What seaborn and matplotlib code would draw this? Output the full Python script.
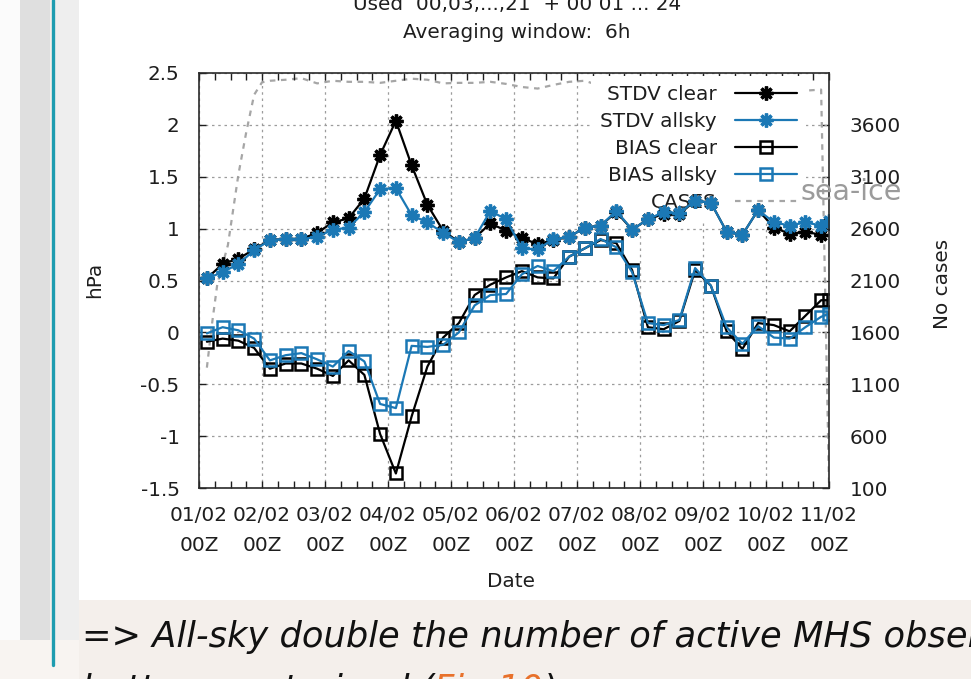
import numpy as np
import matplotlib
matplotlib.use("Agg")
import matplotlib.pyplot as plt
import matplotlib.ticker as mticker
from matplotlib.patches import Rectangle
from matplotlib.lines import Line2D
import seaborn as sns

# ---- data -------------------------------------------------------------
# 6-hourly averages centred at 03, 09, 15, 21 UTC, plus the closing 00 UTC window
hours = list(range(3, 240, 6)) + [240]

stdv_clear = [0.52, 0.66, 0.71, 0.80, 0.89, 0.90, 0.90, 0.96, 1.06, 1.10,
              1.29, 1.71, 2.04, 1.61, 1.23, 0.98, 0.87, 0.91, 1.05, 0.98,
              0.91, 0.85, 0.89, 0.92, 1.01, 1.03, 1.16, 0.99, 1.09, 1.14,
              1.14, 1.27, 1.25, 0.97, 0.94, 1.18, 1.01, 0.95, 0.97, 0.94, 1.05]
stdv_allsky = [0.52, 0.58, 0.66, 0.79, 0.89, 0.90, 0.90, 0.92, 0.99, 1.01,
               1.16, 1.38, 1.39, 1.13, 1.06, 0.96, 0.87, 0.91, 1.17, 1.09,
               0.81, 0.80, 0.90, 0.92, 1.01, 1.03, 1.17, 0.99, 1.09, 1.16,
               1.15, 1.27, 1.25, 0.97, 0.94, 1.18, 1.06, 1.03, 1.06, 1.03, 1.07]
bias_clear = [-0.09, -0.06, -0.08, -0.15, -0.35, -0.30, -0.30, -0.35, -0.42, -0.27,
              -0.41, -0.98, -1.36, -0.81, -0.33, -0.05, 0.09, 0.36, 0.46, 0.53,
              0.59, 0.53, 0.52, 0.73, 0.81, 0.89, 0.86, 0.60, 0.05, 0.03,
              0.11, 0.60, 0.45, 0.01, -0.16, 0.09, 0.07, 0.01, 0.16, 0.31, 0.31]
bias_allsky = [-0.01, 0.05, 0.02, -0.06, -0.27, -0.22, -0.20, -0.26, -0.33, -0.18,
               -0.28, -0.69, -0.73, -0.13, -0.14, -0.12, 0.00, 0.26, 0.36, 0.37,
               0.56, 0.64, 0.59, 0.73, 0.81, 0.90, 0.82, 0.58, 0.09, 0.07,
               0.12, 0.62, 0.45, 0.05, -0.11, 0.06, -0.05, -0.06, 0.05, 0.15, 0.18]

# number of cases (right axis)
cases_hours = [3, 5, 7, 11, 15, 18, 21, 24, 27, 33, 39, 45, 51, 57, 63, 69, 75,
               81, 87, 93, 99, 105, 111, 117, 123, 129, 135, 141, 147, 153, 159,
               165, 171, 177, 183, 189, 195, 201, 207, 213, 219, 225, 231, 237, 240]
cases = [1260, 1690, 2070, 2440, 3120, 3530, 3890, 4010, 4025, 4035, 4050, 4000,
         4025, 4015, 4015, 4005, 4025, 4045, 4035, 4000, 4005, 4005, 4015, 3995,
         3965, 3950, 3985, 4015, 4025, 3975, 3955, 3940, 3930, 3910, 3890, 3880,
         3870, 3860, 3860, 3880, 3900, 3910, 3930, 3940, 150]

day_labels = ["01/02", "02/02", "03/02", "04/02", "05/02", "06/02",
              "07/02", "08/02", "09/02", "10/02", "11/02"]
tick_labels = [f"{d}\n00Z" for d in day_labels]

hpa_ticks = [-1.5, -1.0, -0.5, 0.0, 0.5, 1.0, 1.5, 2.0, 2.5]
hpa_labels = ["-1.5", "-1", "-0.5", "0", "0.5", "1", "1.5", "2", "2.5"]
cases_ticks = [100, 600, 1100, 1600, 2100, 2600, 3100, 3600]

series_names = ["STDV clear", "STDV allsky", "BIAS clear", "BIAS allsky", "CASES"]

# ---- style --------------------------------------------------------------
sns.set_theme(style="white")
plt.rcParams["font.family"] = ["DejaVu Sans"]
plt.rcParams["axes.unicode_minus"] = False
plt.rcParams["text.color"] = "#1e1e1e"
plt.rcParams["axes.labelcolor"] = "#1e1e1e"
plt.rcParams["xtick.color"] = "#1e1e1e"
plt.rcParams["ytick.color"] = "#1e1e1e"

FS = 14.4
BLUE = "#1b78b5"
GREY = "#a6a6a6"

W, H = 971, 679
fig = plt.figure(figsize=(W / 100, H / 100), dpi=100)
fig.patch.set_facecolor("#f4efeb")


def px_rect(x0, y0, x1, y1, color):
    fig.patches.append(Rectangle((x0 / W, 1 - y1 / H), (x1 - x0) / W, (y1 - y0) / H,
                                 transform=fig.transFigure, facecolor=color,
                                 edgecolor="none", zorder=-10))


# slide background: side panel, accent bar and the white chart card
px_rect(0, 0, 20, 640, "#fbfbfb")
px_rect(20, 0, 50, 640, "#dfdfdf")
px_rect(55, 0, 79, 640, "#eeeeee")
px_rect(0, 640, 79, 679, "#f8f4f1")
px_rect(79, 0, 971, 600, "#ffffff")
fig.lines.append(Line2D([53 / W, 53 / W], [1, 1 - 665 / H], transform=fig.transFigure,
                        color="#1e9cb0", linewidth=2.4, zorder=-5))

# ---- axes ---------------------------------------------------------------
ax = fig.add_axes([199 / W, 1 - 488 / H, 630 / W, 415 / H])
ax2 = ax.twinx()
ax.set_zorder(ax2.get_zorder() + 1)
ax.patch.set_visible(False)

t = np.array(hours) / 24.0
star = (8, 2, 0)
common = dict(errorbar=None, legend=False, linewidth=1.6)

sns.lineplot(x=t, y=stdv_clear, ax=ax, color="black", marker=star, markersize=10,
             markeredgewidth=2.4, markeredgecolor="black", label=series_names[0], **common)
sns.lineplot(x=t, y=stdv_allsky, ax=ax, color=BLUE, marker=star, markersize=10,
             markeredgewidth=2.4, markeredgecolor=BLUE, label=series_names[1], **common)
sns.lineplot(x=t, y=bias_clear, ax=ax, color="black", marker="s", markersize=8,
             markeredgewidth=1.8, markeredgecolor="black", markerfacecolor="none",
             label=series_names[2], **common)
sns.lineplot(x=t, y=bias_allsky, ax=ax, color=BLUE, marker="s", markersize=8,
             markeredgewidth=1.8, markeredgecolor=BLUE, markerfacecolor="none",
             label=series_names[3], **common)
sns.lineplot(x=np.array(cases_hours) / 24.0, y=cases, ax=ax2, color=GREY,
             linestyle=(0, (2.5, 2.5)), errorbar=None, legend=False, linewidth=1.6,
             label=series_names[4])

ax.set_xlim(0, 10)
ax.set_ylim(-1.5, 2.5)
ax2.set_ylim(100, 4100)

ax.set_xticks(range(11))
ax.set_xticklabels(tick_labels, linespacing=1.75)
ax.xaxis.set_minor_locator(mticker.MultipleLocator(0.25))
ax.set_yticks(hpa_ticks)
ax.set_yticklabels(hpa_labels)
ax2.set_yticks(cases_ticks)
ax2.set_yticklabels([str(v) for v in cases_ticks])

ax.grid(True, which="major", color="#9c9c9c", linestyle=(0, (2, 3)), linewidth=0.9)
ax.set_axisbelow(True)

for sp in ax.spines.values():
    sp.set_color("#2a2a2a")
    sp.set_linewidth(1.2)
for sp in ax2.spines.values():
    sp.set_visible(False)

ax.tick_params(axis="x", which="both", direction="in", top=True, bottom=True,
               length=5, width=1, labelsize=FS, pad=13)
ax.tick_params(axis="y", which="both", direction="in", left=True, right=False,
               length=5, width=1, labelsize=FS, pad=14)
ax2.tick_params(axis="y", direction="in", right=True, length=5, width=1,
                labelsize=FS, pad=15)

ax.set_xlabel("Date", fontsize=FS)
ax.xaxis.set_label_coords((511 - 199) / 630, (488 - 572) / 415)
ax.set_ylabel("hPa", fontsize=FS)
ax.yaxis.set_label_coords((104 - 199) / 630, (488 - 280) / 415)
ax2.set_ylabel("No cases", fontsize=FS)
ax2.yaxis.set_label_coords((933 - 199) / 630, (488 - 284) / 415)

handles = list(ax.get_lines()) + list(ax2.get_lines())
leg = ax.legend(handles=handles, labels=series_names, loc="upper right",
                bbox_to_anchor=((806 - 199) / 630, (488 - 76) / 415),
                bbox_transform=ax.transAxes, borderaxespad=0, markerfirst=False,
                frameon=True, facecolor="white", edgecolor="none", framealpha=1,
                fancybox=False, fontsize=FS, handlelength=3.1, handletextpad=0.9,
                labelspacing=0.40, borderpad=0.45)
leg.set_zorder(1.5)

# ---- titles and slide text ---------------------------------------------
fig.text(517 / W, 1 - 10 / H, "Used  00,03,...,21  + 00 01 ... 24",
         ha="center", va="baseline", fontsize=FS)
fig.text(517 / W, 1 - 38 / H, "Averaging window:  6h",
         ha="center", va="baseline", fontsize=FS)
fig.text(800 / W, 1 - 200 / H, "sea-ice", ha="left", va="baseline",
         fontsize=20.5, color="#9b9b9b", zorder=10)

BODY = 25.4
fig.text(82 / W, 1 - 647 / H, "=> All-sky double the number of active MHS observations",
         ha="left", va="baseline", fontsize=BODY, style="italic", color="#111111")
t1 = fig.text(82 / W, 1 - 700 / H, "better constrained (", ha="left", va="baseline",
              fontsize=BODY, style="italic", color="#111111")
t2 = ax.annotate("Fig 10", xy=(1, 0), xycoords=t1, va="bottom", ha="left",
                 fontsize=BODY, style="italic", color="#e8712b", annotation_clip=False)
ax.annotate(")", xy=(1, 0), xycoords=t2, va="bottom", ha="left",
            fontsize=BODY, style="italic", color="#111111", annotation_clip=False)

fig.savefig("out.png", dpi=100, facecolor=fig.get_facecolor())
